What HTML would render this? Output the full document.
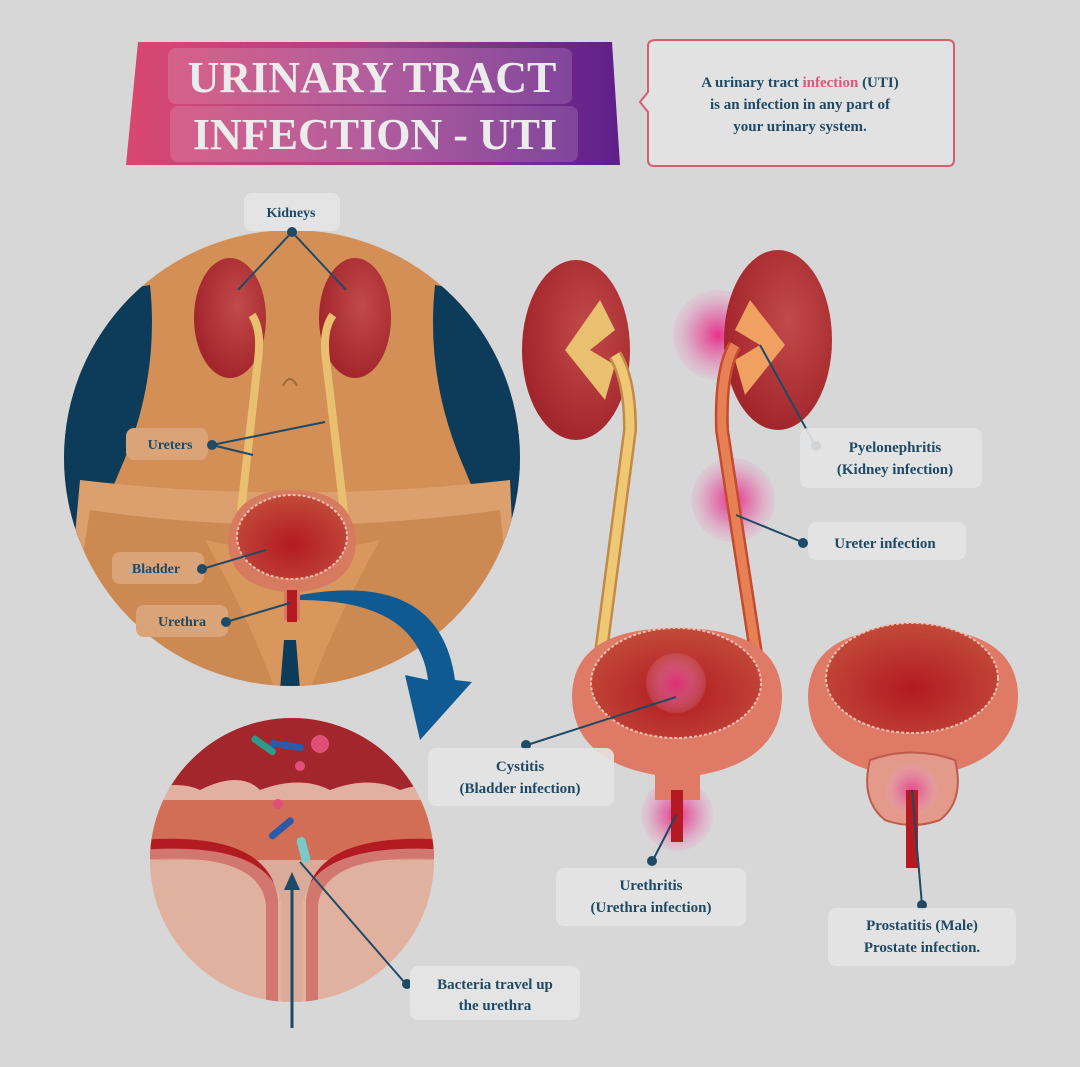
<!DOCTYPE html>
<html><head><meta charset="utf-8"><style>
html,body{margin:0;padding:0;background:#d7d7d7;}
svg{display:block}
text{font-family:"Liberation Serif",serif;font-weight:bold;fill:#1e4a66;}
</style></head><body>
<svg width="1080" height="1067" viewBox="0 0 1080 1067" xmlns="http://www.w3.org/2000/svg">
<defs>
<linearGradient id="tg" x1="0" x2="1"><stop offset="0" stop-color="#d9476f"/><stop offset="0.5" stop-color="#a4418c"/><stop offset="1" stop-color="#5e1f8a"/></linearGradient>
<radialGradient id="kid" cx="0.6" cy="0.4" r="0.6"><stop offset="0" stop-color="#c24a4a"/><stop offset="1" stop-color="#a3262c"/></radialGradient>
<radialGradient id="inf"><stop offset="0" stop-color="#e8308a"/><stop offset="0.5" stop-color="#e36aa8" stop-opacity="0.7"/><stop offset="1" stop-color="#e8a0c8" stop-opacity="0.2"/></radialGradient>
<radialGradient id="bl" cx="0.5" cy="0.6" r="0.6"><stop offset="0" stop-color="#b31a22"/><stop offset="1" stop-color="#c24a3a"/></radialGradient>
<clipPath id="c1"><circle cx="292" cy="458" r="228"/></clipPath>
<clipPath id="c2"><circle cx="292" cy="860" r="142"/></clipPath>
</defs>
<rect width="1080" height="1067" fill="#d7d7d7"/>

<!-- Title -->
<path d="M138 42 H612 L620 165 H126 Z" fill="url(#tg)"/>
<rect x="168" y="48" width="404" height="56" rx="8" fill="#fff" opacity="0.15"/>
<rect x="170" y="106" width="408" height="56" rx="8" fill="#fff" opacity="0.15"/>
<text x="372" y="92" text-anchor="middle" font-size="44" style="fill:#ececec">URINARY TRACT</text>
<text x="375" y="149" text-anchor="middle" font-size="44" style="fill:#ececec">INFECTION - UTI</text>
<path d="M656 40 H948 Q954 40 954 46 V160 Q954 166 948 166 H654 Q648 166 648 160 V112 L640 102 L648 92 V46 Q648 40 656 40Z" fill="#e2e2e2" stroke="#d26070" stroke-width="2"/>
<text x="800" y="87" text-anchor="middle" font-size="15">A urinary tract <tspan style="fill:#e2567a">infection</tspan> (UTI)</text>
<text x="800" y="109" text-anchor="middle" font-size="15">is an infection in any part of</text>
<text x="800" y="131" text-anchor="middle" font-size="15">your urinary system.</text>

<!-- Circle 1 -->
<circle cx="292" cy="458" r="228" fill="#d38f55"/>
<g clip-path="url(#c1)">
<path d="M60 300 L150 285 Q160 380 120 470 Q100 520 80 540 L60 540Z" fill="#0c3c5a"/>
<path d="M525 300 L435 285 Q425 380 465 470 Q485 520 505 540 L525 540Z" fill="#0c3c5a"/>
<path d="M80 480 Q290 505 510 480 L520 700 H60Z" fill="#dca06e"/>
<path d="M90 510 Q290 540 500 510 L520 700 H60Z" fill="#cc8a52"/>
<path d="M205 540 Q250 620 275 690 H310 Q335 620 380 540 Q292 560 205 540Z" fill="#d9975e"/>
<path d="M284 640 L296 640 L300 690 H280Z" fill="#0c3c5a"/>
</g>
<ellipse cx="230" cy="318" rx="36" ry="60" fill="url(#kid)"/>
<ellipse cx="355" cy="318" rx="36" ry="60" fill="url(#kid)"/>
<path d="M252 315 Q262 330 258 360 L240 520" stroke="#e8c070" stroke-width="8" fill="none"/>
<path d="M333 315 Q322 330 326 360 L345 520" stroke="#e8c070" stroke-width="8" fill="none"/>
<path d="M283 386 Q290 372 297 386" stroke="#a06a3a" stroke-width="2" fill="none"/>
<path d="M292 490 Q352 490 356 540 Q356 585 300 592 V620 H284 V592 Q228 585 228 540 Q232 490 292 490Z" fill="#d77a60"/>
<ellipse cx="292" cy="537" rx="55" ry="42" fill="url(#bl)" stroke="#f0c0b0" stroke-width="2" stroke-dasharray="3 2"/>
<rect x="287" y="590" width="10" height="32" fill="#b31a22"/>
<!-- blue arrow -->
<path d="M300 595 Q440 570 455 680 L472 682 L420 740 L405 675 L428 680 Q418 600 300 600Z" fill="#0f5a93"/>

<!-- labels circle 1 -->
<rect x="244" y="193" width="96" height="38" rx="8" fill="#e4e4e4"/>
<text x="291" y="217" text-anchor="middle" font-size="14">Kidneys</text>
<circle cx="292" cy="232" r="5" fill="#1e4a66"/>
<line x1="292" y1="232" x2="238" y2="290" stroke="#1e4a66" stroke-width="2"/>
<line x1="292" y1="232" x2="346" y2="290" stroke="#1e4a66" stroke-width="2"/>
<rect x="126" y="428" width="82" height="32" rx="8" fill="#dba378"/>
<text x="170" y="449" text-anchor="middle" font-size="14">Ureters</text>
<circle cx="212" cy="445" r="5" fill="#1e4a66"/>
<line x1="212" y1="445" x2="325" y2="422" stroke="#1e4a66" stroke-width="2"/>
<line x1="212" y1="445" x2="253" y2="455" stroke="#1e4a66" stroke-width="2"/>
<rect x="112" y="552" width="92" height="32" rx="8" fill="#dba378"/>
<text x="156" y="573" text-anchor="middle" font-size="14">Bladder</text>
<circle cx="202" cy="569" r="5" fill="#1e4a66"/>
<line x1="202" y1="569" x2="266" y2="550" stroke="#1e4a66" stroke-width="2"/>
<rect x="136" y="605" width="92" height="32" rx="8" fill="#dba378"/>
<text x="182" y="626" text-anchor="middle" font-size="14">Urethra</text>
<circle cx="226" cy="622" r="5" fill="#1e4a66"/>
<line x1="226" y1="622" x2="290" y2="603" stroke="#1e4a66" stroke-width="2"/>

<!-- Circle 2 -->
<circle cx="292" cy="860" r="142" fill="#d9ab98"/>
<g clip-path="url(#c2)">
<rect x="140" y="710" width="310" height="80" fill="#a3262c"/>
<path d="M140 790 Q180 780 200 790 Q240 770 260 790 Q300 775 330 790 Q370 775 400 790 Q430 780 450 790 V800 H140Z" fill="#e2b0a0"/>
<rect x="140" y="800" width="310" height="60" fill="#d26e55"/>
<path d="M140 840 Q270 830 278 900 V1010 H306 V900 Q314 830 450 840 V860 Q325 850 318 905 V1010 H266 V905 Q260 850 140 860Z" fill="#b31a22"/>
<path d="M140 850 Q272 840 282 905 V1010 H302 V905 Q312 840 450 850 V1010 H140Z" fill="#e6b5a5" opacity="0.6"/>
</g>
<rect x="250" y="742" width="28" height="7" rx="3" fill="#2e9a8a" transform="rotate(35 264 745)"/>
<rect x="270" y="742" width="34" height="7" rx="3" fill="#2a5aa8" transform="rotate(8 287 745)"/>
<circle cx="320" cy="744" r="9" fill="#e0507a"/>
<circle cx="300" cy="766" r="5" fill="#e0507a"/>
<circle cx="278" cy="804" r="5" fill="#e0507a"/>
<rect x="266" y="825" width="30" height="7" rx="3" fill="#2a5aa8" transform="rotate(-40 281 828)"/>
<rect x="290" y="845" width="26" height="9" rx="4" fill="#7ac8c8" transform="rotate(75 303 850)"/>
<line x1="292" y1="1028" x2="292" y2="885" stroke="#1e4a66" stroke-width="3"/>
<path d="M284 890 L292 872 L300 890Z" fill="#1e4a66"/>
<line x1="300" y1="862" x2="405" y2="983" stroke="#1e4a66" stroke-width="2"/>
<circle cx="407" cy="984" r="5" fill="#1e4a66"/>
<rect x="410" y="966" width="170" height="54" rx="8" fill="#e4e4e4"/>
<text x="495" y="989" text-anchor="middle" font-size="15">Bacteria travel up</text>
<text x="495" y="1010" text-anchor="middle" font-size="15">the urethra</text>

<!-- Right: kidneys -->
<circle cx="718" cy="335" r="45" fill="url(#inf)"/>
<circle cx="733" cy="500" r="42" fill="url(#inf)"/>
<circle cx="676" cy="683" r="48" fill="url(#inf)"/>
<circle cx="677" cy="815" r="36" fill="url(#inf)"/>
<ellipse cx="576" cy="350" rx="54" ry="90" fill="url(#kid)"/>
<ellipse cx="778" cy="340" rx="54" ry="90" fill="url(#kid)"/>
<path d="M565 350 L600 300 L615 330 L590 350 L615 365 L605 400 Z" fill="#e8c070"/>
<path d="M785 345 L750 300 L735 330 L760 345 L735 360 L745 395 Z" fill="#f0a060"/>
<path d="M615 355 Q630 380 630 430 L600 660 Q598 675 610 680" stroke="#c28a45" stroke-width="14" fill="none"/>
<path d="M615 355 Q630 380 630 430 L600 660 Q598 675 610 680" stroke="#eec875" stroke-width="9" fill="none"/>
<path d="M735 345 Q720 370 722 430 L757 660 Q760 675 748 680" stroke="#c44a30" stroke-width="14" fill="none"/>
<path d="M735 345 Q720 370 722 430 L757 660 Q760 675 748 680" stroke="#e88055" stroke-width="9" fill="none"/>
<!-- bladder 1 -->
<path d="M676 628 Q780 628 782 695 Q782 760 700 775 V800 H655 V775 Q572 760 572 695 Q574 628 676 628Z" fill="#df7a66"/>
<ellipse cx="676" cy="683" rx="85" ry="55" fill="url(#bl)" stroke="#f0c0b0" stroke-width="2" stroke-dasharray="3 2"/>
<circle cx="676" cy="683" r="30" fill="url(#inf)" opacity="0.8"/>
<rect x="671" y="790" width="12" height="52" fill="#b31a22"/>
<!-- bladder 2 -->
<path d="M912 628 Q1016 628 1018 695 Q1018 760 935 775 V800 H890 V775 Q808 760 808 695 Q810 628 912 628Z" fill="#df7a66"/>
<ellipse cx="912" cy="678" rx="86" ry="55" fill="url(#bl)" stroke="#f0c0b0" stroke-width="2" stroke-dasharray="3 2"/>
<path d="M870 760 Q912 745 955 760 Q965 800 940 820 Q912 830 885 820 Q860 800 870 760Z" fill="#e49a8a" stroke="#c05a4a" stroke-width="2"/>
<circle cx="912" cy="790" r="26" fill="url(#inf)" opacity="0.8"/>
<rect x="906" y="790" width="12" height="78" fill="#b31a22"/>

<!-- right labels -->
<line x1="760" y1="345" x2="815" y2="445" stroke="#1e4a66" stroke-width="2"/>
<circle cx="816" cy="446" r="5" fill="#1e4a66"/>
<rect x="800" y="428" width="182" height="60" rx="8" fill="#e4e4e4" opacity="0.9"/>
<text x="895" y="452" text-anchor="middle" font-size="15">Pyelonephritis</text>
<text x="895" y="474" text-anchor="middle" font-size="15">(Kidney infection)</text>
<line x1="736" y1="515" x2="802" y2="542" stroke="#1e4a66" stroke-width="2"/>
<circle cx="803" cy="543" r="5" fill="#1e4a66"/>
<rect x="808" y="522" width="158" height="38" rx="8" fill="#e4e4e4" opacity="0.9"/>
<text x="885" y="548" text-anchor="middle" font-size="15">Ureter infection</text>
<line x1="676" y1="697" x2="527" y2="745" stroke="#1e4a66" stroke-width="2"/>
<circle cx="526" cy="745" r="5" fill="#1e4a66"/>
<rect x="428" y="748" width="186" height="58" rx="8" fill="#e4e4e4" opacity="0.9"/>
<text x="520" y="771" text-anchor="middle" font-size="15">Cystitis</text>
<text x="520" y="793" text-anchor="middle" font-size="15">(Bladder infection)</text>
<line x1="676" y1="815" x2="653" y2="860" stroke="#1e4a66" stroke-width="2"/>
<circle cx="652" cy="861" r="5" fill="#1e4a66"/>
<rect x="556" y="868" width="190" height="58" rx="8" fill="#e4e4e4" opacity="0.9"/>
<text x="651" y="890" text-anchor="middle" font-size="15">Urethritis</text>
<text x="651" y="912" text-anchor="middle" font-size="15">(Urethra infection)</text>
<line x1="912" y1="790" x2="922" y2="905" stroke="#1e4a66" stroke-width="2"/>
<circle cx="922" cy="905" r="5" fill="#1e4a66"/>
<rect x="828" y="908" width="188" height="58" rx="8" fill="#e4e4e4" opacity="0.9"/>
<text x="922" y="930" text-anchor="middle" font-size="15">Prostatitis (Male)</text>
<text x="922" y="952" text-anchor="middle" font-size="15">Prostate infection.</text>
</svg>
</body></html>
